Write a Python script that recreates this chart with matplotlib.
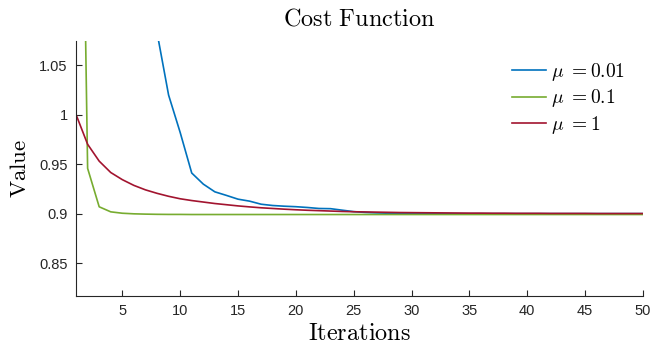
import matplotlib
matplotlib.use("Agg")
import matplotlib.pyplot as plt

# cost values per iteration
iterations = list(range(1, 51))
cost_mu001 = [2.50, 2.00, 1.70, 1.50, 1.36, 1.25, 1.16, 1.083, 1.0197, 0.982,
              0.941, 0.9298, 0.922, 0.9184, 0.9146, 0.9126, 0.9095, 0.9082, 0.9075, 0.9070,
              0.9062, 0.9052, 0.9050, 0.9035, 0.9020, 0.9012, 0.9007, 0.9004, 0.9002, 0.9001,
              0.9000, 0.9000, 0.9000, 0.9000, 0.9000, 0.9000, 0.9000, 0.9000, 0.9000, 0.9000,
              0.9000, 0.9000, 0.9000, 0.9000, 0.9000, 0.9000, 0.9000, 0.9000, 0.9000, 0.9000]
cost_mu01 = [1.70, 0.9457, 0.9069, 0.9018, 0.9004, 0.8998, 0.8995, 0.8993, 0.8992, 0.8992] + [0.8991] * 40
cost_mu1 = [1.000, 0.970, 0.953, 0.9415, 0.9343, 0.9285, 0.9240, 0.9205, 0.9175, 0.9150,
            0.9132, 0.9117, 0.9102, 0.9090, 0.9078, 0.9068, 0.9059, 0.9052, 0.9045, 0.9039,
            0.9034, 0.9030, 0.9026, 0.9022, 0.9019, 0.9017, 0.9015, 0.9013, 0.9011, 0.9010,
            0.9009, 0.9008, 0.9007, 0.9006, 0.9005, 0.9005, 0.9004, 0.9004, 0.9003, 0.9003,
            0.9003, 0.9002, 0.9002, 0.9002, 0.9002, 0.9001, 0.9001, 0.9001, 0.9001, 0.9001]

series = [
    (r'$\mu$ $=$$0.01$', cost_mu001, '#0072BD'),
    (r'$\mu$ $=$$0.1$', cost_mu01, '#77AC30'),
    (r'$\mu$ $=$$1$', cost_mu1, '#A2142F'),
]

plt.rcParams['mathtext.fontset'] = 'cm'
plt.rcParams['font.family'] = ['Liberation Sans', 'DejaVu Sans']

fig = plt.figure(figsize=(6.5, 3.48), dpi=100)
ax = fig.add_axes([0.117, 0.149, 0.872, 0.733])

for label, vals, color in series:
    ax.plot(iterations, vals, color=color, lw=1.2, label=label)

ax.set_xlim(1, 50)
ax.set_ylim(0.8167, 1.0742)
ax.set_xticks(range(5, 51, 5))
ax.set_yticks([0.85, 0.9, 0.95, 1.0, 1.05])
ax.set_yticklabels(['0.85', '0.9', '0.95', '1', '1.05'])

for s in ['top', 'right']:
    ax.spines[s].set_visible(False)
for s in ['left', 'bottom']:
    ax.spines[s].set_color('#262626')
    ax.spines[s].set_linewidth(0.8)
ax.tick_params(direction='in', length=4, width=0.8, colors='#262626',
               labelsize=10.5, pad=6)

ax.set_title(r'$\mathrm{Cost\ Function}$', fontsize=17.5, pad=11)
ax.set_xlabel(r'$\mathrm{Iterations}$', fontsize=17.5, labelpad=3)
ax.set_ylabel(r'$\mathrm{Value}$', fontsize=16.5, labelpad=6)

ax.legend(loc='upper right', frameon=False, fontsize=14, handlelength=1.75,
          handletextpad=0.25, labelspacing=0.22, bbox_to_anchor=(1.0, 0.99))

fig.savefig('out.png', dpi=100)
